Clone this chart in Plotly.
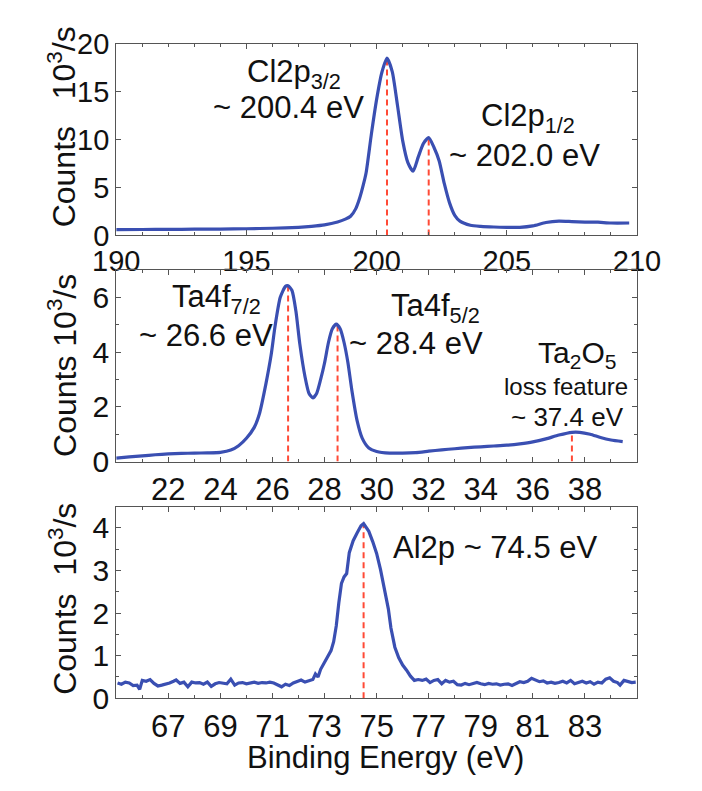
import plotly.graph_objects as go

# ---------------- data ----------------
# Top panel: Cl 2p
cl_x = [190.0, 191.0, 192.0, 193.0, 194.0, 195.0, 196.0, 197.0, 197.5, 198.0, 198.5, 198.8, 199.0, 199.2,
        199.35, 199.5, 199.6, 199.8, 200.0, 200.2, 200.4, 200.6, 200.8, 201.0, 201.2, 201.4, 201.6, 201.8,
        202.0, 202.2, 202.4, 202.6, 202.8, 203.0, 203.2, 203.6, 204.0, 204.5, 205.0, 205.5, 206.0, 206.5,
        207.0, 207.5, 208.0, 208.5, 209.0, 209.7]
cl_y = [0.60, 0.62, 0.63, 0.65, 0.67, 0.70, 0.75, 0.85, 0.95, 1.10, 1.40, 1.70, 2.00, 2.80,
        3.90, 5.40, 6.60, 10.6, 14.2, 17.0, 18.5, 17.1, 13.6, 9.9, 7.6, 6.7, 8.2, 9.6,
        10.2, 9.2, 7.8, 5.4, 3.4, 2.1, 1.5, 1.07, 0.95, 0.88, 0.85, 0.85, 1.0, 1.35,
        1.5, 1.45, 1.4, 1.38, 1.3, 1.3]
cl_peak_x = [200.4, 202.0]
cl_peak_y = [18.4, 10.1]

# Middle panel: Ta 4f
ta_x = [20.0, 20.5, 21.0, 21.5, 22.0, 22.5, 23.0, 23.5, 24.0, 24.4, 24.7, 25.0, 25.3, 25.5, 25.75, 25.95,
        26.1, 26.3, 26.5, 26.6, 26.75, 26.9, 27.05, 27.25, 27.4, 27.55, 27.7, 27.85, 28.0, 28.15, 28.3,
        28.45, 28.6, 28.75, 28.9, 29.05, 29.25, 29.45, 29.7, 30.0, 30.5, 31.0, 31.5, 32.0, 32.5, 33.0,
        33.5, 34.0, 34.5, 35.0, 35.5, 36.0, 36.5, 37.0, 37.5, 37.8, 38.2, 38.6, 39.0, 39.45]
ta_y = [0.13, 0.17, 0.21, 0.25, 0.28, 0.30, 0.31, 0.32, 0.34, 0.42, 0.58, 0.85, 1.25, 1.75, 2.85, 3.9,
        4.95, 6.0, 6.4, 6.42, 6.25, 5.5, 4.3, 3.1, 2.5, 2.33, 2.5, 3.0, 3.6, 4.35, 4.85,
        5.02, 4.85, 4.35, 3.6, 2.6, 1.5, 0.85, 0.5, 0.37, 0.31, 0.31, 0.33, 0.38, 0.43, 0.47,
        0.51, 0.54, 0.57, 0.60, 0.65, 0.72, 0.83, 0.97, 1.07, 1.07, 1.0, 0.88, 0.79, 0.73]
ta_peak_x = [26.6, 28.5, 37.5]
ta_peak_y = [6.4, 5.0, 1.07]

# Bottom panel: Al 2p
al_x = [65.05, 65.2, 65.35, 65.5, 65.65, 65.8, 65.9, 66.0, 66.15, 66.3, 66.45, 66.6, 66.75, 66.9, 67.05,
        67.2, 67.3, 67.45, 67.6, 67.75, 67.9, 68.05, 68.2, 68.35, 68.5, 68.65, 68.8, 68.95, 69.1, 69.25,
        69.4, 69.55, 69.7, 69.85, 70.0, 70.15, 70.3, 70.45, 70.6, 70.75, 70.9, 71.05, 71.2, 71.35, 71.5,
        71.65, 71.8, 71.95, 72.1, 72.25, 72.4, 72.55, 72.65, 72.75, 72.85, 72.95, 73.1, 73.25, 73.35,
        73.45, 73.55, 73.65, 73.75, 73.85, 73.95, 74.1, 74.25, 74.4, 74.5, 74.6, 74.7, 74.85, 75.0,
        75.15, 75.3, 75.45, 75.55, 75.7, 75.85, 76.0, 76.15, 76.3, 76.45, 76.6, 76.75, 76.9, 77.05,
        77.2, 77.35, 77.5, 77.65, 77.8, 77.95, 78.1, 78.25, 78.4, 78.55, 78.7, 78.85, 79.0, 79.15,
        79.3, 79.45, 79.6, 79.75, 79.9, 80.05, 80.2, 80.35, 80.5, 80.65, 80.8, 80.95, 81.1, 81.25,
        81.4, 81.55, 81.7, 81.85, 82.0, 82.15, 82.3, 82.45, 82.6, 82.75, 82.9, 83.05, 83.2, 83.35,
        83.5, 83.65, 83.8, 83.95, 84.1, 84.25, 84.35, 84.5, 84.65, 84.8, 84.95]
al_y = [0.36, 0.33, 0.38, 0.36, 0.30, 0.31, 0.21, 0.42, 0.40, 0.44, 0.35, 0.29, 0.31, 0.33, 0.36,
        0.40, 0.43, 0.35, 0.38, 0.27, 0.38, 0.36, 0.37, 0.33, 0.38, 0.28, 0.34, 0.37, 0.36, 0.34,
        0.45, 0.31, 0.36, 0.37, 0.34, 0.36, 0.38, 0.35, 0.37, 0.36, 0.38, 0.36, 0.31, 0.27, 0.33,
        0.30, 0.36, 0.40, 0.43, 0.38, 0.41, 0.44, 0.57, 0.50, 0.68, 0.80, 0.95, 1.12, 1.33,
        1.70, 2.25, 2.70, 2.85, 2.93, 3.42, 3.70, 3.88, 4.05, 4.10, 4.02, 3.92, 3.68, 3.40,
        3.02, 2.60, 2.10, 1.65, 1.20, 0.95, 0.78, 0.66, 0.52, 0.42, 0.44, 0.42, 0.45, 0.37,
        0.42, 0.44, 0.34, 0.42, 0.38, 0.40, 0.32, 0.31, 0.35, 0.32, 0.35, 0.37, 0.34, 0.32,
        0.35, 0.33, 0.34, 0.31, 0.33, 0.34, 0.30, 0.35, 0.39, 0.37, 0.40, 0.47, 0.42, 0.39,
        0.41, 0.36, 0.38, 0.35, 0.37, 0.40, 0.36, 0.42, 0.34, 0.37, 0.40, 0.36, 0.39, 0.33,
        0.38, 0.36, 0.45, 0.48, 0.40, 0.37, 0.31, 0.42, 0.40, 0.37, 0.38]
al_peak_x = [74.5]
al_peak_y = [4.05]

top_xticks = [190, 195, 200, 205, 210]
top_yticks = [0, 5, 10, 15, 20]
mid_xticks = [22, 24, 26, 28, 30, 32, 34, 36, 38]
mid_yticks = [0, 2, 4, 6]
bot_xticks = [67, 69, 71, 73, 75, 77, 79, 81, 83]
bot_yticks = [0, 1, 2, 3, 4]

# ---------------- style ----------------
FONT = "Liberation Sans, Arial, sans-serif"
BLUE = "#3a4fb2"
RED = "#ff4a36"
AX = "#555555"
W, H = 702, 791

def px_x(p):
    return p / W

def px_y(p):
    return 1 - p / H

fig = go.Figure()

def add_panel(idx, xs, ys, px_, py_, spline):
    xa = "x" if idx == 1 else f"x{idx}"
    ya = "y" if idx == 1 else f"y{idx}"
    for xv, yv in zip(px_, py_):
        fig.add_trace(go.Scatter(x=[xv, xv], y=[0, yv], mode="lines", xaxis=xa, yaxis=ya,
                                 line=dict(color=RED, width=2, dash="6px,4px"), showlegend=False,
                                 hoverinfo="skip"))
    fig.add_trace(go.Scatter(x=xs, y=ys, mode="lines", xaxis=xa, yaxis=ya,
                             line=dict(color=BLUE, width=3.2,
                                       shape="spline" if spline else "linear", smoothing=0.6),
                             showlegend=False))

add_panel(1, cl_x, cl_y, cl_peak_x, cl_peak_y, True)
add_panel(2, ta_x, ta_y, ta_peak_x, ta_peak_y, True)
add_panel(3, al_x, al_y, al_peak_x, al_peak_y, False)

xdom = [px_x(99), px_x(658)]

def xaxis(rng, ticks, anchor, minor_dtick, size):
    return dict(domain=xdom, range=rng, anchor=anchor, tickmode="array", tickvals=ticks,
                ticks="inside", ticklen=5, tickcolor=AX, showline=True, linecolor=AX, linewidth=1.2,
                mirror="ticks", showgrid=False, zeroline=False,
                tickfont=dict(family=FONT, size=size, color="#111"),
                minor=dict(tickmode="linear", tick0=0, dtick=minor_dtick, ticks="inside", ticklen=3,
                           tickcolor=AX, showgrid=False))

def yaxis(dom, rng, ticks, anchor, minor_dtick, size):
    d = dict(domain=dom, range=rng, anchor=anchor, tickmode="array", tickvals=ticks,
             ticks="inside", ticklen=5, tickcolor=AX, showline=True, linecolor=AX, linewidth=1.2,
             mirror="ticks", showgrid=False, zeroline=False,
             tickfont=dict(family=FONT, size=size, color="#111"))
    if minor_dtick:
        d["minor"] = dict(tickmode="linear", tick0=0, dtick=minor_dtick, ticks="inside", ticklen=3,
                          tickcolor=AX, showgrid=False)
    return d

fig.update_layout(
    width=W, height=H, margin=dict(l=0, r=0, t=0, b=0),
    paper_bgcolor="white", plot_bgcolor="white",
    xaxis=xaxis([190, 210], top_xticks, "y", 1, 29),
    yaxis=yaxis([px_y(229), px_y(29)], [0, 20], top_yticks, "x", None, 29),
    xaxis2=xaxis([20, 40], mid_xticks, "y2", 1, 31),
    yaxis2=yaxis([px_y(465), px_y(265)], [0, 7], mid_yticks, "x2", 1, 30),
    xaxis3=xaxis([65, 85], bot_xticks, "y3", 1, 31),
    yaxis3=yaxis([px_y(712), px_y(512)], [0, 4.5], bot_yticks, "x3", 0.5, 30),
)

def note(text, x, y, ref, size=31):
    xa, ya = ref
    fig.add_annotation(text=text, x=x, y=y, xref=xa, yref=ya, showarrow=False,
                       font=dict(family=FONT, size=size, color="#111"),
                       xanchor="center", yanchor="middle")

note("Cl2p<sub>3/2</sub>", 196.83, 16.9, ("x", "y"))
note("~ 200.4 eV", 196.62, 13.3, ("x", "y"))
note("Cl2p<sub>1/2</sub>", 205.82, 12.3, ("x", "y"))
note("~ 202.0 eV", 205.68, 8.3, ("x", "y"))

note("Ta4f<sub>7/2</sub>", 23.86, 5.95, ("x2", "y2"))
note("~ 26.6 eV", 23.43, 4.62, ("x2", "y2"))
note("Ta4f<sub>5/2</sub>", 32.27, 5.6, ("x2", "y2"))
note("~ 28.4 eV", 31.5, 4.3, ("x2", "y2"))
note("Ta<sub>2</sub>O<sub>5</sub>", 37.71, 3.9, ("x2", "y2"), 30)
note("loss feature", 37.28, 2.74, ("x2", "y2"), 24)
note("~ 37.4 eV", 37.32, 1.62, ("x2", "y2"), 26)

note("Al2p ~ 74.5 eV", 79.57, 3.55, ("x3", "y3"), 31)

# y-axis titles
for txt, yc in [("Counts&nbsp;&nbsp;&nbsp;10<sup>3</sup>/s", 116),
                ("Counts&nbsp;10<sup>3</sup>/s", 365),
                ("Counts&nbsp;&nbsp;10<sup>3</sup>/s", 608)]:
    fig.add_annotation(text=txt, x=px_x(41), y=px_y(yc), xref="paper", yref="paper",
                       showarrow=False, textangle=-90, xanchor="center", yanchor="middle",
                       font=dict(family=FONT, size=32, color="#111"))

fig.add_annotation(text="Binding Energy (eV)", x=px_x(388), y=px_y(774), xref="paper", yref="paper",
                   showarrow=False, xanchor="center", yanchor="middle",
                   font=dict(family=FONT, size=31, color="#111"))

fig.write_html("out.html")
